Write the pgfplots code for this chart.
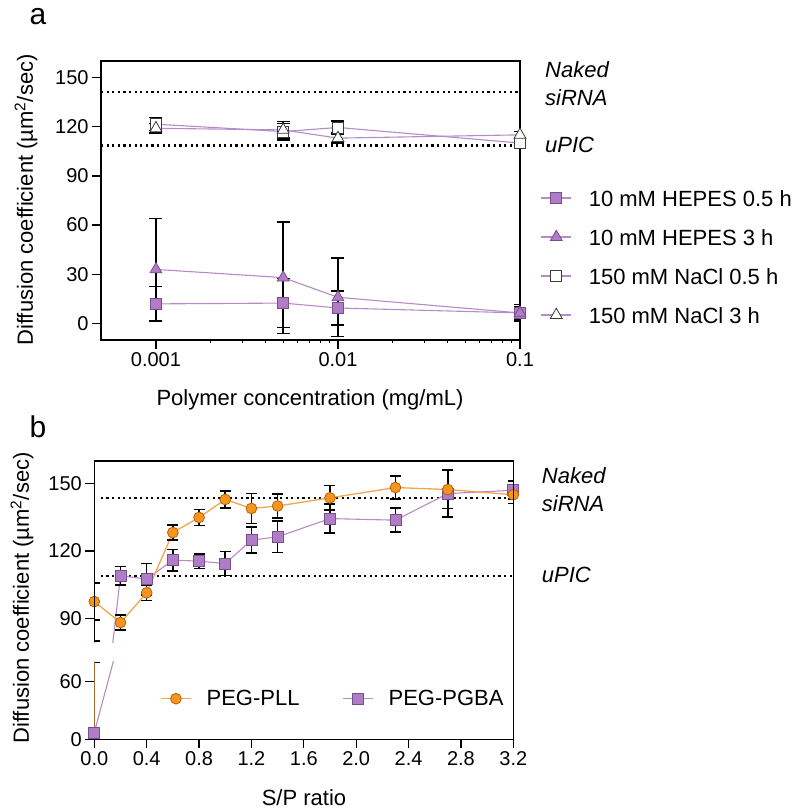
\documentclass[border=0pt]{standalone}
\usepackage{pgfplots}
\pgfplotsset{compat=1.18}
\usepackage{fontspec}
\setmainfont{Liberation Sans}
\definecolor{lil}{HTML}{B48CC8}
\definecolor{pfill}{HTML}{B07CC6}
\definecolor{pedge}{HTML}{7A4E8C}
\definecolor{ofill}{HTML}{F7941D}
\definecolor{oedge}{HTML}{B5620A}
\definecolor{oline}{HTML}{F4A54E}
\definecolor{gedge}{HTML}{3A3A3A}
\newcommand{\tfont}{\fontsize{20}{24}\selectfont}
\newcommand{\lfont}{\fontsize{22}{26}\selectfont}
\pgfplotsset{
  common/.style={
    scale only axis,
    /pgf/number format/assume math mode=true,
    tick label style={font=\tfont},
    tick align=outside,
    major tick length=9pt,
    tick style={black, line width=1.3pt},
    axis line style={line width=1.3pt},
    xtick pos=bottom, ytick pos=left,
    minor tick num=0,
  },
  eb/.style={error bars/y dir=both, error bars/y explicit,
    error bars/error bar style={black, line width=1.5pt},
    error bars/error mark options={black, line width=1.5pt, mark size=#1, rotate=90}},
  limg/.style={legend image code/.code={%
    \draw[##1, mark repeat=2, mark phase=2] plot coordinates {(0pt,0pt) (15pt,0pt) (30pt,0pt)};}},
  dots/.style={black, line width=2.6pt, dash pattern=on 2.2pt off 3.4pt},
}
\begin{document}
\begin{tikzpicture}
\useasboundingbox (0,0) rectangle (800pt,812pt);
% ---------------- panel a ----------------
\begin{axis}[common, at={(101pt,472pt)}, anchor=south west, width=419pt, height=279pt,
  xmode=log, xmin=0.000499, xmax=0.1, ymin=-10, ymax=160,
  xtick={0.001,0.01,0.1}, xticklabels={0.001,0.01,0.1},
  ytick={0,30,60,90,120,150},
  limg,
  legend cell align=left,
  legend style={draw=none, fill=none, at={(1.049,0.54)}, anchor=north west,
    font=\lfont, row sep=22pt, column sep=17pt, inner sep=0pt,
    nodes={inner sep=0pt, text height=17pt, text depth=0pt}},
]
\addplot[dots, forget plot] coordinates {(0.000499,141) (0.1,141)};
\addplot[dots, forget plot] coordinates {(0.000499,108.4) (0.1,108.4)};
\addplot[lil, line width=1.1pt, mark=square*, mark size=5.5pt,
  mark options={fill=pfill, draw=pedge, line width=0.8pt}, eb=6.5pt]
  coordinates {(0.001,12) +- (0,10.6) (0.005,12.5) +- (0,15) (0.01,9.5) +- (0,10.5) (0.1,6.5) +- (0,5)};
\addlegendentry{10 mM HEPES 0.5 h}
\addplot[lil, line width=1.1pt, mark=triangle*, mark size=6.8pt,
  mark options={fill=pfill, draw=pedge, line width=0.8pt}, eb=6.5pt]
  coordinates {(0.001,33) +- (0,31) (0.005,28) +- (0,34) (0.01,16) +- (0,24) (0.1,6.5) +- (0,4)};
\addlegendentry{10 mM HEPES 3 h}
\addplot[lil, line width=1.1pt, mark=square*, mark size=5.5pt,
  mark options={fill=white, draw=gedge, line width=0.8pt}, eb=6.5pt]
  coordinates {(0.001,121.5) +- (0,4) (0.005,117) +- (0,5) (0.01,119.5) +- (0,4) (0.1,110) +- (0,2)};
\addlegendentry{150 mM NaCl 0.5 h}
\addplot[lil, line width=1.1pt, mark=triangle*, mark size=6.8pt,
  mark options={fill=white, draw=gedge, line width=0.8pt}, eb=6.5pt]
  coordinates {(0.001,119) +- (0,3) (0.005,118) +- (0,5) (0.01,113) +- (0,3) (0.1,115) +- (0,2)};
\addlegendentry{150 mM NaCl 3 h}
\end{axis}
\node[font=\fontsize{30}{34}\selectfont] at (38pt,795.5pt) {a};
\node[rotate=90, font=\lfont] at (26pt,612pt) {Diffusion coefficient (µm\textsuperscript{2}/sec)};
\node[font=\lfont] at (310pt,412pt) {Polymer concentration (mg/mL)};
\node[font=\lfont\itshape, anchor=west, inner sep=0pt] at (545pt,742pt) {Naked};
\node[font=\lfont\itshape, anchor=west, inner sep=0pt] at (545pt,714.5pt) {siRNA};
\node[font=\lfont\itshape, anchor=west, inner sep=0pt] at (545pt,667pt) {uPIC};
% ---------------- panel b upper ----------------
\begin{axis}[common, name=pup, at={(94.3pt,169.9pt)}, anchor=south west, width=419pt, height=181.1pt,
  xmin=0, xmax=3.2, ymin=79.5, ymax=160,
  hide x axis, axis y line*=left, axis line style={-, line width=1.3pt},
  ytick={90,120,150}, tick align=outside,
]
\addplot[dots] coordinates {(0.05,143.6) (3.2,143.6)};
\addplot[dots] coordinates {(0.05,108.8) (3.2,108.8)};
\addplot[lil, line width=1.1pt, mark=square*, mark size=5.5pt,
  mark options={fill=pfill, draw=pedge, line width=0.8pt}, eb=5.5pt]
  coordinates {(0,7) += (0,73) -= (0,0) (0.2,109) +- (0,4.1) (0.4,107.5) +- (0,7) (0.6,115.9) +- (0,4.8)
  (0.8,115.5) +- (0,3.2) (1.0,114.4) +- (0,5.3) (1.2,124.8) +- (0,5.8) (1.4,126.3) +- (0,7)
  (1.8,134.4) +- (0,6.5) (2.3,133.7) +- (0,5.3) (2.7,145.5) +- (0,10.5) (3.2,147) +- (0,4)};
\addplot[oline, line width=1.5pt] coordinates {(0,0) (0,97.5)};
\addplot[oline, line width=1.3pt, mark=*, mark size=5.4pt,
  mark options={fill=ofill, draw=oedge, line width=0.8pt}, eb=5.5pt]
  coordinates {(0,97.5) +- (0,8.2) (0.2,88.2) +- (0,3.3) (0.4,101.4) +- (0,3.5) (0.6,128.2) +- (0,3.4)
  (0.8,134.9) +- (0,3.5) (1.0,142.9) +- (0,3.7) (1.2,138.9) +- (0,6.6) (1.4,140) +- (0,5.3)
  (1.8,143.6) +- (0,5.4) (2.3,148.2) +- (0,5.1) (2.7,147.3) +- (0,8.5) (3.2,145) +- (0,4)};
\end{axis}
% ---------------- panel b lower ----------------
\begin{axis}[common, name=plow, at={(94.3pt,72.7pt)}, anchor=south west, width=419pt, height=77.3pt,
  xmin=0, xmax=3.2, ymin=0, ymax=80.5,
  axis x line*=bottom, axis y line*=left, axis line style={-, line width=1.3pt},
  xtick={0,0.4,...,3.2}, ytick={0,60}, tick align=outside,
  xticklabel style={/pgf/number format/.cd, fixed, fixed zerofill, precision=1},
  limg,
  legend columns=4,
  legend style={draw=none, fill=none, at={(0.157,0.525)}, anchor=west,
    font=\lfont, column sep=15pt, inner sep=0pt, nodes={inner sep=0pt},
    /tikz/every even column/.append style={column sep=43pt}},
]
\addlegendimage{oline, line width=1.3pt, mark=*, mark size=5.4pt, mark options={fill=ofill, draw=oedge, line width=0.8pt}}
\addlegendentry{PEG-PLL}
\addlegendimage{lil, line width=1.1pt, mark=square*, mark size=5.5pt, mark options={fill=pfill, draw=pedge, line width=0.8pt}}
\addlegendentry{PEG-PGBA}
\addplot[forget plot, lil, line width=1.1pt, mark=square*, mark size=5.5pt,
  mark options={fill=pfill, draw=pedge, line width=0.8pt}, eb=5.5pt]
  coordinates {(0,7) += (0,73) -= (0,0) (0.2,109) +- (0,4.1) (0.4,107.5) +- (0,7)};
\addplot[forget plot, oline, line width=1.5pt] coordinates {(0,0) (0,97.5)};
\end{axis}
\draw[line width=1.3pt] (pup.south west) -- (pup.north west) -- (pup.north east) -- (plow.south east);
\node[font=\fontsize{30}{34}\selectfont] at (38pt,385pt) {b};
\node[rotate=90, font=\lfont] at (22pt,214pt) {Diffusion coefficient (µm\textsuperscript{2}/sec)};
\node[font=\lfont] at (304pt,14pt) {S/P ratio};
\node[font=\lfont\itshape, anchor=west, inner sep=0pt] at (541.7pt,336pt) {Naked};
\node[font=\lfont\itshape, anchor=west, inner sep=0pt] at (541.7pt,308pt) {siRNA};
\node[font=\lfont\itshape, anchor=west, inner sep=0pt] at (541.7pt,237pt) {uPIC};
\end{tikzpicture}
\end{document}
